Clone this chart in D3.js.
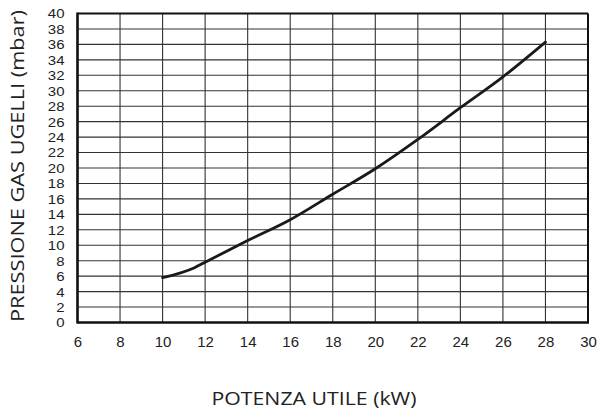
<!DOCTYPE html>
<html>
<head>
<meta charset="utf-8">
<script src="https://cdn.jsdelivr.net/npm/d3@7"></script>
<style>
  html, body { margin: 0; padding: 0; background: #fff; }
  svg { display: block; }
</style>
</head>
<body>
<svg id="chart" width="603" height="412"></svg>
<script>
// ---- data ----
const powerKW = [10, 11.5, 12, 14, 16, 18, 20, 22, 24, 26, 28];
const pressureMbar = [5.8, 7.1, 7.8, 10.6, 13.3, 16.6, 19.9, 23.7, 27.8, 31.8, 36.3];
const xTicks = [6, 8, 10, 12, 14, 16, 18, 20, 22, 24, 26, 28, 30];
const yTicks = [0, 2, 4, 6, 8, 10, 12, 14, 16, 18, 20, 22, 24, 26, 28, 30, 32, 34, 36, 38, 40];
const xTitle = "POTENZA UTILE (kW)";
const yTitle = "PRESSIONE GAS UGELLI (mbar)";

(function () {
// ---- layout ----
const pL = 77.5, pR = 588, pT = 13.5, pB = 322.5;
const svg = d3.select("#chart");

const x = d3.scaleLinear().domain([6, 30]).range([pL, pR]);
const y = d3.scaleLinear().domain([0, 40]).range([pB, pT]);

// grid
const g = svg.append("g");
g.selectAll("line.vg").data(xTicks).join("line")
  .attr("x1", d => x(d)).attr("x2", d => x(d))
  .attr("y1", pT).attr("y2", pB)
  .attr("stroke", "#333").attr("stroke-width", 1.1);
g.selectAll("line.hg").data(yTicks).join("line")
  .attr("x1", pL).attr("x2", pR)
  .attr("y1", d => y(d)).attr("y2", d => y(d))
  .attr("stroke", "#333").attr("stroke-width", 1.1);

// frame
svg.append("line").attr("x1", pL).attr("x2", pR).attr("y1", pT).attr("y2", pT)
  .attr("stroke", "#111").attr("stroke-width", 2);
svg.append("line").attr("x1", pR).attr("x2", pR).attr("y1", pT).attr("y2", pB)
  .attr("stroke", "#111").attr("stroke-width", 2);
svg.append("line").attr("x1", pL).attr("x2", pR + 1).attr("y1", pB).attr("y2", pB)
  .attr("stroke", "#111").attr("stroke-width", 2.6);
svg.append("line").attr("x1", pL).attr("x2", pL).attr("y1", pT - 1).attr("y2", pB + 1)
  .attr("stroke", "#111").attr("stroke-width", 2.6);

// x axis labels
const xAxis = d3.axisBottom(x).tickValues(xTicks).tickSize(0).tickPadding(0).tickFormat(d3.format("d"));
const xa = svg.append("g").attr("transform", `translate(0,${pB + 14})`).call(xAxis);
xa.select(".domain").remove();
xa.selectAll("text")
  .attr("font-family", "'Liberation Sans', Arial, sans-serif")
  .attr("font-size", 15).attr("fill", "#222").attr("dy", "0.71em");

// y axis labels
const yAxis = d3.axisLeft(y).tickValues(yTicks).tickSize(0).tickPadding(0).tickFormat(d3.format("d"));
const ya = svg.append("g").attr("transform", `translate(${pL - 13},0)`).call(yAxis);
ya.select(".domain").remove();
ya.selectAll(".tick text")
  .attr("font-family", "'Liberation Sans', Arial, sans-serif")
  .attr("font-size", 15).attr("fill", "#222")
  .attr("x", 0).attr("dy", "0.36em")
  .attr("transform", "scale(1,0.82)");

// curve
const line = d3.line().x((d, i) => x(powerKW[i])).y(d => y(d)).curve(d3.curveMonotoneX);
svg.append("path").datum(pressureMbar)
  .attr("d", line)
  .attr("fill", "none").attr("stroke", "#1a1a1a").attr("stroke-width", 2.8)
  .attr("stroke-linejoin", "round").attr("stroke-linecap", "round");

// titles
svg.append("text")
  .attr("x", 314).attr("y", 405)
  .attr("text-anchor", "middle")
  .attr("font-family", "'Open Sans', 'Noto Sans', sans-serif")
  .attr("font-size", 18.5).attr("fill", "#222")
  .attr("textLength", 205).attr("lengthAdjust", "spacingAndGlyphs")
  .text(xTitle);

svg.append("text")
  .attr("transform", `translate(24,166) rotate(-90)`)
  .attr("text-anchor", "middle")
  .attr("font-family", "'Open Sans', 'Noto Sans', sans-serif")
  .attr("font-size", 18).attr("fill", "#222")
  .attr("textLength", 312).attr("lengthAdjust", "spacingAndGlyphs")
  .text(yTitle);
})();
</script>
</body>
</html>
